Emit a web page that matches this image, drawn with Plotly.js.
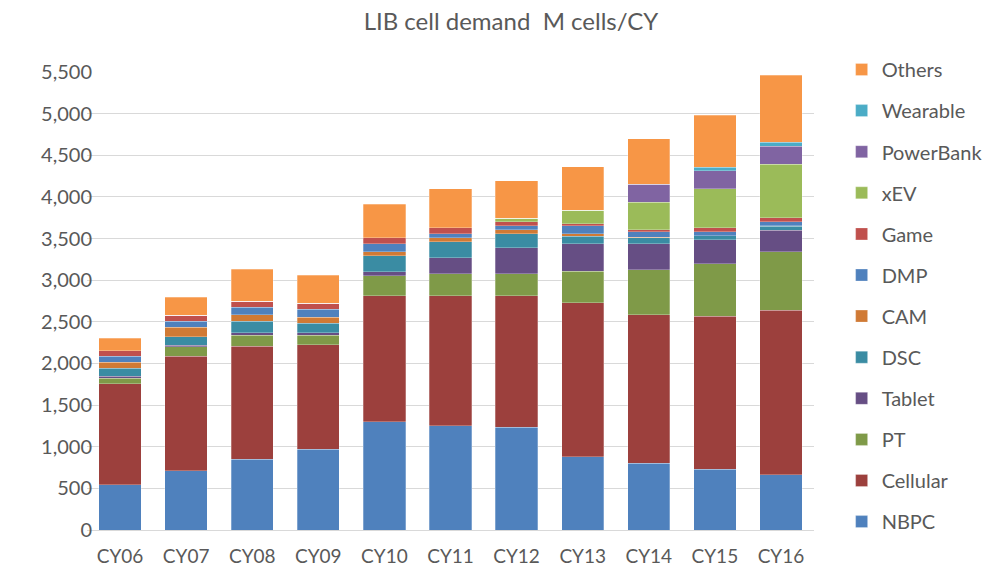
<!DOCTYPE html>
<html>
<head>
<meta charset="utf-8">
<script src="https://cdn.plot.ly/plotly-3.0.1.min.js"></script>
<style>html,body{margin:0;padding:0;background:#fff;}#chart{width:1000px;height:569px;}</style>
</head>
<body>
<div id="chart"></div>
<script>
const categories = ["CY06","CY07","CY08","CY09","CY10","CY11","CY12","CY13","CY14","CY15","CY16"];
const NBPC      = [544, 712, 852, 972, 1300, 1252, 1232, 877, 801, 729, 661];
const Cellular  = [1212, 1372, 1352, 1252, 1516, 1564, 1584, 1851, 1783, 1835, 1975];
const PT        = [68, 116, 136, 116, 236, 264, 264, 380, 544, 636, 704];
const Tablet    = [20, 16, 28, 28, 48, 188, 308, 332, 312, 288, 260];
const DSC       = [100, 104, 140, 116, 192, 192, 168, 88, 72, 44, 48];
const CAM       = [72, 116, 76, 72, 52, 48, 48, 32, 4, 4, 4];
const DMP       = [68, 72, 92, 96, 96, 48, 48, 92, 68, 48, 48];
const Game      = [68, 72, 72, 72, 68, 72, 48, 24, 24, 48, 48];
const xEV       = [0, 0, 0, 0, 0, 0, 44, 164, 328, 469, 647];
const PowerBank = [0, 0, 0, 0, 0, 0, 0, 0, 216, 216, 212];
const Wearable  = [0, 0, 0, 0, 0, 0, 0, 0, 0, 40, 52];
const Others    = [148, 216, 384, 336, 404, 472, 448, 520, 545, 626, 805];

const seriesNames = ["NBPC","Cellular","PT","Tablet","DSC","CAM","DMP","Game","xEV","PowerBank","Wearable","Others"];
const seriesData = [NBPC, Cellular, PT, Tablet, DSC, CAM, DMP, Game, xEV, PowerBank, Wearable, Others];
const seriesColors = ["#4F81BD","#9C403D","#7F9A48","#664E84","#3A8CA3","#D07A35","#4F81BD","#C0504D","#9BBB59","#8064A2","#4BACC6","#F79646"];

const traces = seriesNames.map((n, i) => ({
  type: "bar",
  name: n,
  x: categories,
  y: seriesData[i],
  legendgroup: n,
  legendrank: 100 - i,
  marker: {color: seriesColors[i], line: {width: 0.6, color: "rgba(255,255,255,0.45)"}},
  hoverinfo: "x+y+name"
}));

const font = "Lato, 'Open Sans', sans-serif";
const layout = {
  width: 1000, height: 569,
  margin: {l: 87, r: 167, t: 72, b: 39},
  barmode: "stack",
  bargap: 0.36,
  paper_bgcolor: "#ffffff",
  plot_bgcolor: "#ffffff",
  font: {family: font, color: "#595959", size: 20},
  title: {text: "LIB cell demand  M cells/CY", x: 0.511, xref: "container", xanchor: "center",
          y: 0.962, yref: "container", yanchor: "middle",
          font: {family: font, size: 24, color: "#595959"}},
  xaxis: {type: "category", showgrid: false, showline: false, ticks: "",
          ticklabelstandoff: 13,
          tickfont: {family: font, size: 19, color: "#595959"}},
  yaxis: {range: [0, 5500], dtick: 500, tickformat: ",d", showgrid: true, gridcolor: "#D9D9D9", gridwidth: 1,
          zeroline: true, zerolinecolor: "#D9D9D9", zerolinewidth: 1, showline: false, ticks: "",
          ticklabelstandoff: -6,
          tickfont: {family: font, size: 20, color: "#595959"}},
  legend: {x: 1.038, xanchor: "left", y: 1.048, yanchor: "top", traceorder: "grouped",
           tracegroupgap: 12.1, bgcolor: "rgba(0,0,0,0)", maxheight: 565,
           font: {family: font, size: 20, color: "#595959"}},
  showlegend: true
};

Plotly.newPlot("chart", traces, layout, {displayModeBar: false, staticPlot: true});
</script>
</body>
</html>
